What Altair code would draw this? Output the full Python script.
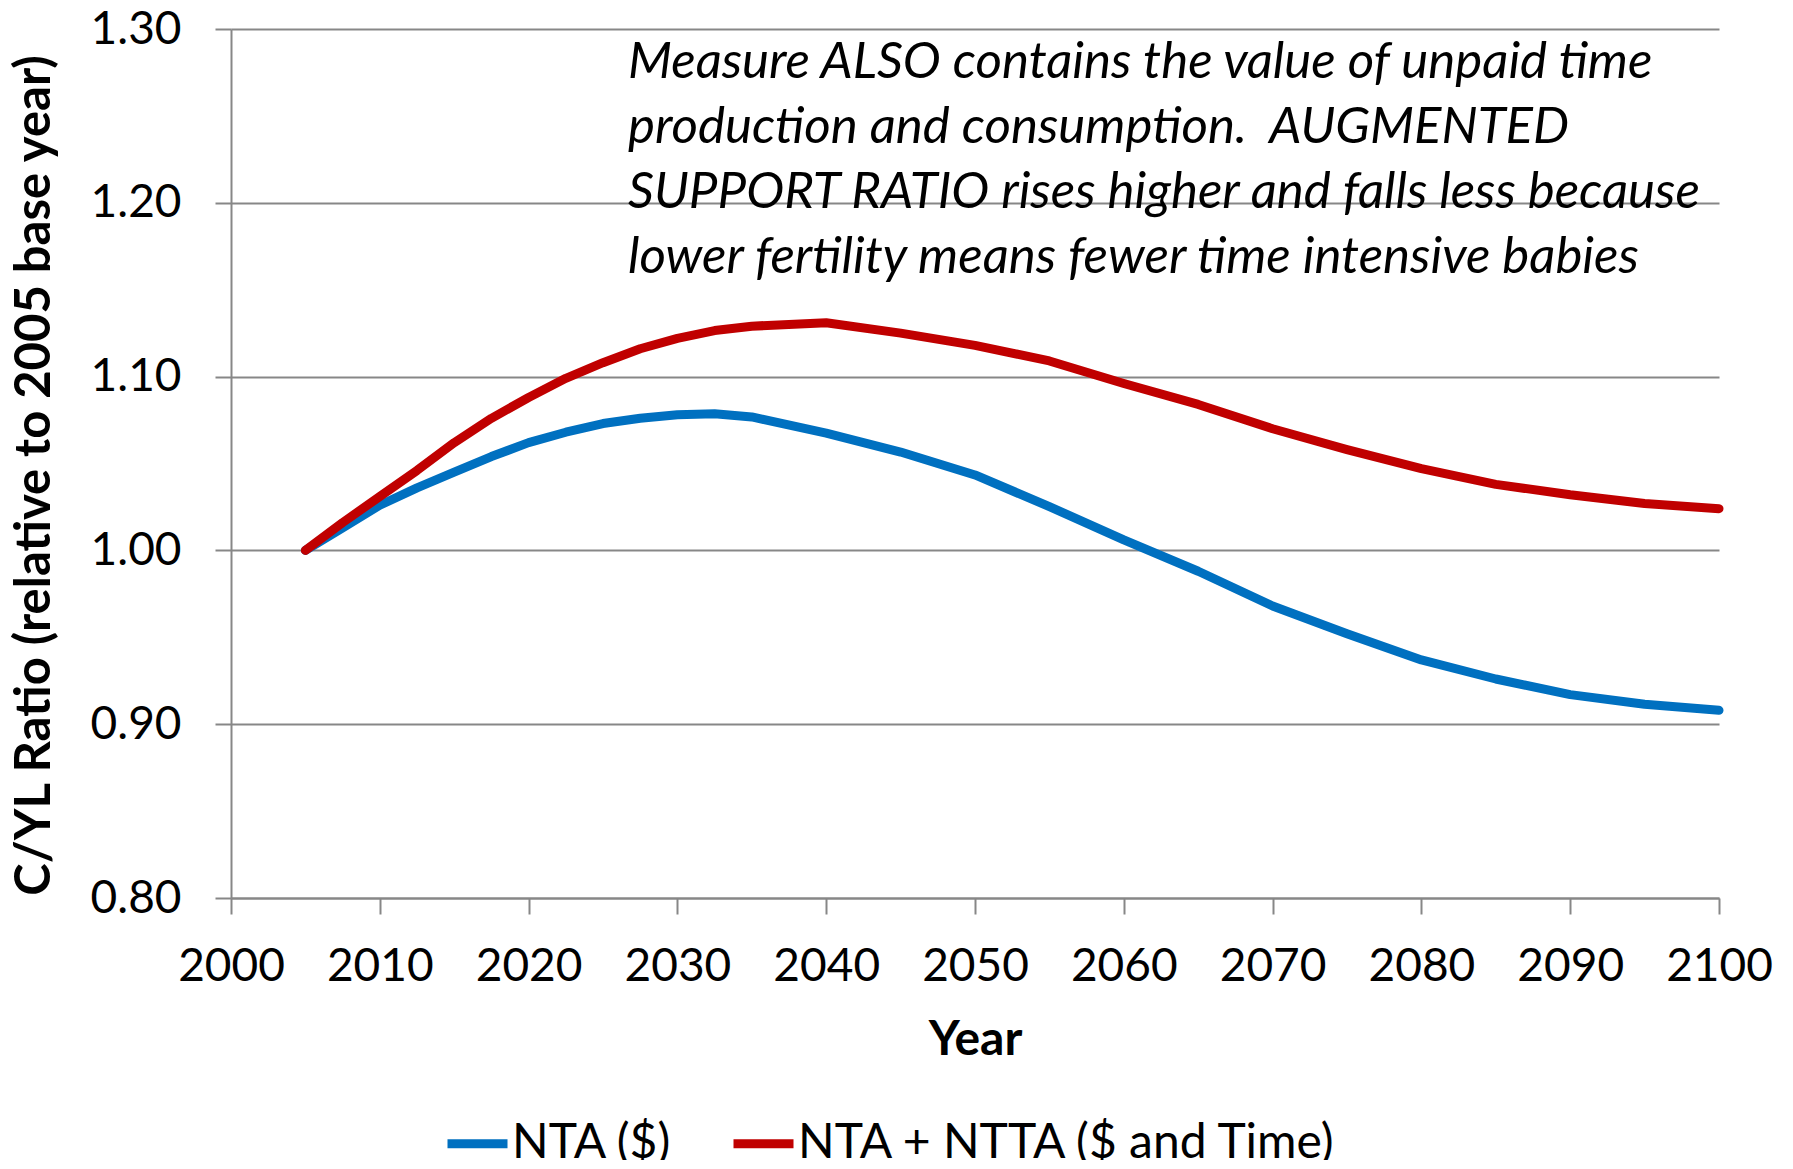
import altair as alt
import pandas as pd

years = [2005, 2007.5, 2010, 2012.5, 2015, 2017.5, 2020, 2022.5, 2025, 2027.5, 2030, 2032.5,
         2035, 2040, 2045, 2050, 2055, 2060, 2065, 2070, 2075, 2080, 2085, 2090, 2095, 2100]
nta = [1.000, 1.013, 1.026, 1.036, 1.045, 1.054, 1.062, 1.068, 1.073, 1.076, 1.078, 1.0786,
       1.0768, 1.0675, 1.0566, 1.0434, 1.0252, 1.006, 0.988, 0.968, 0.952, 0.937, 0.926,
       0.917, 0.9115, 0.908]
ntta = [1.000, 1.016, 1.031, 1.046, 1.062, 1.076, 1.088, 1.099, 1.108, 1.116, 1.122, 1.1265,
        1.129, 1.131, 1.125, 1.118, 1.109, 1.096, 1.084, 1.070, 1.058, 1.047, 1.038, 1.032,
        1.027, 1.024]
series_names = ["NTA ($)", "NTA + NTTA ($ and Time)"]
series_colors = ["#0070C0", "#C00000"]
x_ticks = list(range(2000, 2101, 10))
y_ticks = [0.8, 0.9, 1.0, 1.1, 1.2, 1.3]
note_lines = [
    "Measure ALSO contains the value of unpaid time",
    "production and consumption.\u00a0 AUGMENTED",
    "SUPPORT RATIO rises higher and falls less because",
    "lower fertility means fewer time intensive babies",
]

df = pd.DataFrame({
    "Year": years + years,
    "Value": nta + ntta,
    "Series": [series_names[0]] * len(years) + [series_names[1]] * len(years),
})

FONT = "Lato"
GRAY = "#878787"

lines = alt.Chart(df).mark_line(strokeWidth=9, strokeCap="round", strokeJoin="round").encode(
    x=alt.X("Year:Q",
            scale=alt.Scale(domain=[2000, 2100], nice=False, zero=False),
            axis=alt.Axis(values=x_ticks, format="d", title="Year", grid=False,
                          labelPadding=30, titleX=744, titleY=142, titleBaseline="middle",
                          labelFlush=False)),
    y=alt.Y("Value:Q",
            scale=alt.Scale(domain=[0.8, 1.3], nice=False, zero=False),
            axis=alt.Axis(values=y_ticks, format=".2f",
                          title="C/YL Ratio (relative to 2005 base year)",
                          grid=True, labelPadding=34, titleX=-197, titleY=446,
                          titleAngle=270, titleBaseline="middle", titleAlign="center",
                          titleFontSize=49)),
    color=alt.Color("Series:N",
                    scale=alt.Scale(domain=series_names, range=series_colors),
                    legend=alt.Legend(orient="none", legendX=212, legendY=1080,
                                      direction="horizontal", title=None,
                                      symbolType="stroke", symbolStrokeWidth=9,
                                      symbolSize=3600, labelFont=FONT, labelFontSize=48,
                                      labelColor="black", labelOffset=0, columnPadding=43,
                                      padding=0, labelLimit=1000)),
)

note = alt.Chart(pd.DataFrame({"k": [0]})).mark_text(
    align="left", baseline="alphabetic", font=FONT, fontSize=51, fontStyle="italic",
    lineHeight=65, color="black"
).encode(
    x=alt.value(397), y=alt.value(49), text=alt.value(note_lines)
)

chart = alt.layer(lines, note).properties(
    width=1488, height=869,
    padding={"left": 223, "top": 21, "right": 66, "bottom": 262},
    autosize="none",
    background="white",
).configure_view(stroke=None).configure_axis(
    domainColor=GRAY, domainWidth=2, tickColor=GRAY, tickWidth=2, tickSize=16,
    gridColor=GRAY, gridWidth=2,
    labelFont=FONT, labelFontSize=46, labelColor="black",
    titleFont=FONT, titleFontSize=48, titleFontWeight="bold", titleColor="black",
)

chart.save("out.html", embed_options={"renderer": "svg", "actions": False})
